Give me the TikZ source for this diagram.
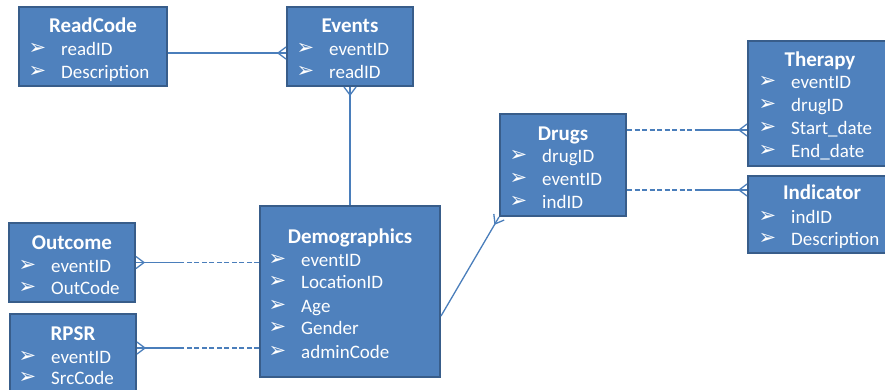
\documentclass[tikz,border=0pt]{standalone}
\usepackage{fontspec}
\setmainfont{Carlito}
\newfontfamily\dv{DejaVu Sans}
\usetikzlibrary{calc}
\definecolor{boxfill}{HTML}{4F81BD}
\definecolor{boxline}{HTML}{385D8A}
\definecolor{connc}{HTML}{4A7EBB}
\tikzset{
  ebox/.style={draw=boxline, fill=boxfill, line width=2pt, rectangle, inner sep=0pt},
  ttl/.style={anchor=base, inner sep=0pt, text=white, font=\fontsize{21}{24}\selectfont\bfseries},
  fldtext/.style={anchor=base west, inner sep=0pt, text=white, font=\fontsize{19}{22}\selectfont},
  bul/.style={inner sep=0pt, text=white, font=\dv\fontsize{21}{24}\selectfont},
  conn/.style={draw=connc, line width=1.3pt},
  dconn/.style={conn, dash pattern=on 5pt off 2.5pt},
}
\newcommand\fld[4]{%
  \node[bul] (#1b) at (#2+5.5,#3) {➢};
  \node[fldtext] (#1) at (#2+29,#3+6.2) {#4};}
\newcommand\crow[2]{%
  \draw[conn] ($(#2)!6pt!90:(#1)$) -- ($(#2)!8pt!(#1)$) -- ($(#2)!6pt!-90:(#1)$);}
\begin{document}
\begin{tikzpicture}[x=1pt,y=-1pt]
\useasboundingbox (0,0) rectangle (885,389);
% boxes
\node[ebox, minimum width=148pt, minimum height=79pt] (rc) at (93,46.5) {};
\node[ebox, minimum width=126pt, minimum height=79pt] (ev) at (350,46.5) {};
\node[ebox, minimum width=126pt, minimum height=102pt] (dr) at (563,165) {};
\node[ebox, minimum width=142pt, minimum height=125pt] (th) at (819,103.5) {};
\node[ebox, minimum width=142pt, minimum height=77pt] (in) at (819,214.5) {};
\node[ebox, minimum width=126pt, minimum height=79pt] (oc) at (72,262.5) {};
\node[ebox, minimum width=126pt, minimum height=84pt] (rp) at (73,356) {};
\node[ebox, minimum width=180pt, minimum height=171pt] (dm) at (350,291.5) {};
% titles and fields
\node[ttl] (rct) at (93,32) {ReadCode};
\fld{rc1}{32}{49}{readID}
\fld{rc2}{32}{72}{Description}
\node[ttl] (evt) at (350,32) {Events};
\fld{ev1}{300}{49}{eventID}
\fld{ev2}{300}{72}{readID}
\node[ttl] (drt) at (563,140) {Drugs};
\fld{dr1}{513}{156}{drugID}
\fld{dr2}{513}{179}{eventID}
\fld{dr3}{513}{202}{indID}
\node[ttl] (tht) at (820,66) {Therapy};
\fld{th1}{762}{82}{eventID}
\fld{th2}{762}{105}{drugID}
\fld{th3}{762}{128}{Start\_date}
\fld{th4}{762}{151}{End\_date}
\node[ttl] (int) at (822,199) {Indicator};
\fld{in1}{762}{217}{indID}
\fld{in2}{762}{239}{Description}
\node[ttl] (oct) at (72,249) {Outcome};
\fld{oc1}{22}{266}{eventID}
\fld{oc2}{22}{288}{OutCode}
\node[ttl] (rpt) at (73,340) {RPSR};
\fld{rp1}{22}{357}{eventID}
\fld{rp2}{22}{378}{SrcCode}
\node[ttl] (dmt) at (350,243) {Demographics};
\fld{dm1}{272}{260}{eventID}
\fld{dm2}{272}{282}{LocationID}
\fld{dm3}{272}{306}{Age}
\fld{dm4}{272}{328}{Gender}
\fld{dm5}{272}{352}{adminCode}
% connectors
\coordinate (a1) at ([yshift=-6.5pt]rc.east);
\coordinate (b1) at (ev.west |- a1);
\draw[conn] (a1) -- (b1); \crow{a1}{b1}
\coordinate (a2) at (dm.north);
\coordinate (b2) at (ev.south);
\draw[conn] (a2) -- (b2); \crow{a2}{b2}
\coordinate (a3) at ([yshift=-24.5pt]dm.east);
\coordinate (b3) at (dr.south west);
\draw[conn] (a3) -- (b3); \crow{a3}{b3}
\coordinate (a4) at ([yshift=35pt]dr.east);
\coordinate (b4) at (th.west |- a4);
\draw[dconn] (a4) -- ($(a4)!0.6!(b4)$);
\draw[conn] ($(a4)!0.6!(b4)$) -- (b4); \crow{a4}{b4}
\coordinate (a5) at ([yshift=-25pt]dr.east);
\coordinate (b5) at (in.west |- a5);
\draw[dconn] (a5) -- ($(a5)!0.6!(b5)$);
\draw[conn] ($(a5)!0.6!(b5)$) -- (b5); \crow{a5}{b5}
\coordinate (a6) at (dm.west |- oc.east);
\coordinate (b6) at (oc.east);
\draw[dconn] (a6) -- ($(a6)!0.62!(b6)$);
\draw[conn] ($(a6)!0.62!(b6)$) -- (b6); \crow{a6}{b6}
\coordinate (b7) at ([yshift=8pt]rp.east);
\coordinate (a7) at (dm.west |- b7);
\draw[dconn] (a7) -- ($(a7)!0.62!(b7)$);
\draw[conn] ($(a7)!0.62!(b7)$) -- (b7); \crow{a7}{b7}
\end{tikzpicture}
\end{document}
